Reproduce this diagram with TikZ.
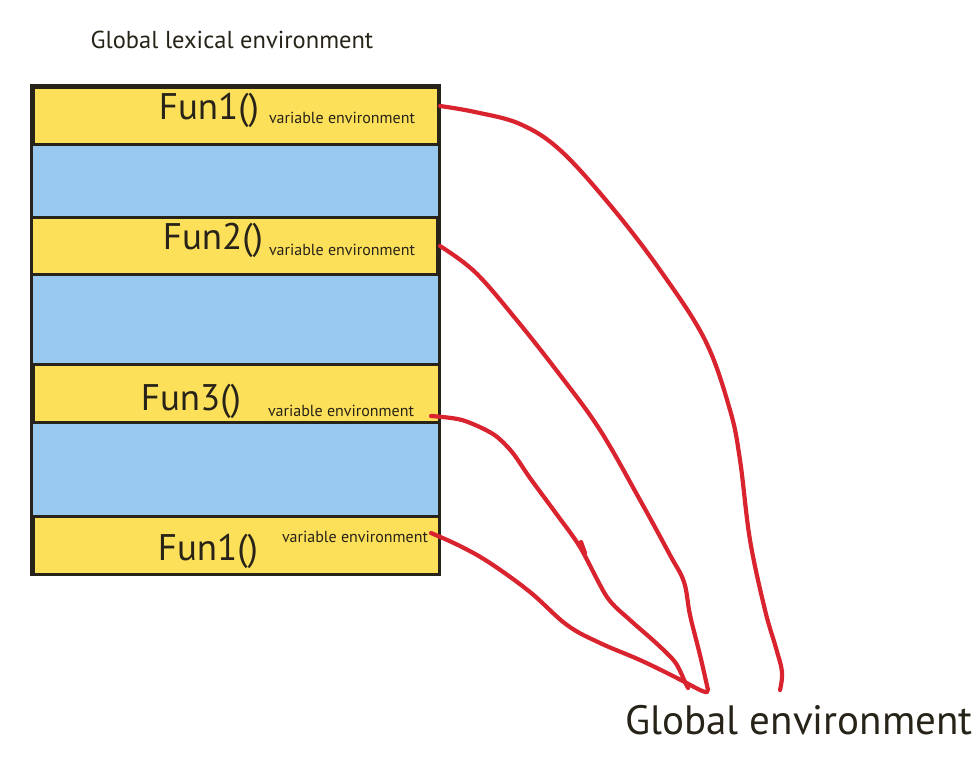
\documentclass[tikz,border=0pt]{standalone}
\usepackage{fontspec}
\setmainfont{PT Sans}
\definecolor{yel}{HTML}{FDE05A}
\definecolor{blu}{HTML}{99C8EE}
\definecolor{drk}{HTML}{272318}
\definecolor{rd}{HTML}{D9232E}
\begin{document}
\begin{tikzpicture}[x=1pt,y=-1pt,
  band/.style={inner sep=0pt,outer sep=0pt,anchor=north west,minimum width=#1},
  fname/.style={text=drk,font=\fontsize{37}{40}\selectfont,inner sep=0pt},
  venv/.style={text=drk,font=\fontsize{16}{18}\selectfont,inner sep=0pt},
  link/.style={rd,line width=4.2pt,line cap=round,line join=round}]
\useasboundingbox (0,0) rectangle (980,756);
\node[text=drk,font=\fontsize{24.5}{27}\selectfont,inner sep=0pt] (title) at (232,40) {Global lexical environment};
% frame
\node[band=411pt,minimum height=492pt,fill=drk] (frame) at (30,84) {};
% bands
\node[band=402pt,minimum height=54pt,fill=yel] (y1) at (35,89) {};
\node[band=405pt,minimum height=70pt,fill=blu] (b1) at (33,146) {};
\node[band=403pt,minimum height=54pt,fill=yel] (y2) at (33,219) {};
\node[band=405pt,minimum height=87pt,fill=blu] (b2) at (33,276) {};
\node[band=403pt,minimum height=55pt,fill=yel] (y3) at (35,366) {};
\node[band=405pt,minimum height=91pt,fill=blu] (b3) at (33,424) {};
\node[band=403pt,minimum height=55pt,fill=yel] (y4) at (35,518) {};
% texts
\node[fname] (f1) at (209,110) {Fun1()};
\node[venv] (v1) at (342,118) {variable environment};
\node[fname] (f2) at (213,240) {Fun2()};
\node[venv] (v2) at (342,250) {variable environment};
\node[fname] (f3) at (191,401) {Fun3()};
\node[venv] (v3) at (341,411) {variable environment};
\node[fname] (f4) at (208,551) {Fun1()};
\node[venv] (v4) at (355,537) {variable environment};
\node[text=drk,font=\fontsize{41}{45}\selectfont,inner sep=0pt] (glob) at (799,720) {Global environment};
% connector ends
\coordinate (s1) at (440,106);
\coordinate (s2) at (440,246);
\coordinate (s3) at (431,416);
\coordinate (s4) at (431,533);
\coordinate (e1) at (780,690);
\coordinate (e2) at (708,690);
\coordinate (e3) at (688,688);
\coordinate (e4) at (707,692);
\draw[link] plot[smooth,tension=0.6] coordinates {(s1) (475,112) (520,124) (560,150) (610,205) (660,270) (705,340) (730,410) (740,460) (750,540) (765,610) (776,648) (782,672) (e1)};
\draw[link] plot[smooth,tension=0.6] coordinates {(s2) (475,272) (515,318) (560,375) (600,430) (640,500) (670,555) (684,582) (690,615) (700,655) (e2)};
\draw[link] plot[smooth,tension=0.5] coordinates {(s3) (462,420) (493,434) (512,452) (530,478) (555,512) (580,547) (607,597) (630,620) (655,642) (675,662) (685,682) (e3)};
\draw[link] (581,542) -- (585,553);
\draw[link] plot[smooth,tension=0.6] coordinates {(s4) (460,546) (490,563) (530,592) (567,625) (600,643) (640,660) (675,677) (700,690) (e4)};
\end{tikzpicture}
\end{document}
